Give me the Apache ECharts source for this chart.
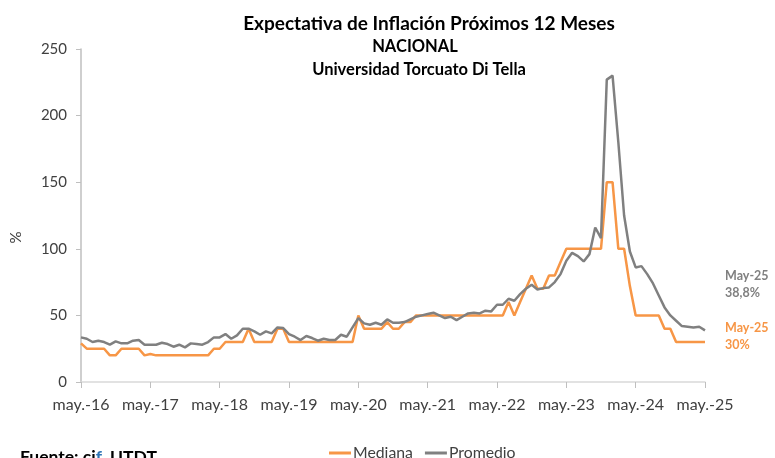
<!DOCTYPE html>
<html>
<head>
<meta charset="utf-8">
<script src="https://cdn.jsdelivr.net/npm/echarts@6/dist/echarts.min.js"></script>
<style>
  html, body { margin: 0; padding: 0; background: #fff; }
  #chart { width: 775px; height: 458px; }
</style>
</head>
<body>
<div id="chart"></div>
<script>
// meses: may-16 .. may-25 (109 puntos)
const mesesAbr = ['ene', 'feb', 'mar', 'abr', 'may', 'jun', 'jul', 'ago', 'sep', 'oct', 'nov', 'dic']
const categorias = []
for (let k = 0; k < 109; k++) {
  const m = (4 + k) % 12
  const a = 16 + Math.floor((4 + k) / 12)
  categorias.push(mesesAbr[m] + '.-' + a)
}

// Mediana (naranja)
const mediana = [
  29, 25, 25, 25, 25, 20, 20, 25, 25, 25, 25, 20, 21, 20,
  20, 20, 20, 20, 20, 20, 20, 20,
  20, 25, 25, 30, 30, 30, 30, 40, 30, 30, 30, 30, 40, 40, 30,
  30, 30, 30, 30, 30, 30, 30, 30, 30, 30,
  30, 50, 40, 40, 40, 40, 45, 40, 40, 45, 45,
  50, 50, 50, 50, 50, 50, 50, 50, 50, 50, 50, 50, 50, 50, 50, 50,
  60, 50, 60, 70, 80, 70, 70, 80, 80, 90,
  100, 100, 100, 100, 100, 100, 100,
  150, 150, 100, 100, 72,
  50, 50, 50, 50, 50,
  40, 40,
  30, 30, 30, 30, 30, 30
]

// Promedio (gris)
const promedio = [
  33.5, 32.5, 30, 31, 30, 28, 30.5, 29, 29, 31, 31.5, 28, 28, 28,
  29.5, 28.5, 26.5, 28, 26, 29, 28.5, 28,
  30, 33.5, 33.5, 36, 32.5, 35, 40, 40, 38, 35.5, 38, 36.5, 41, 40.5, 36,
  34, 31.5, 34.5, 33, 31, 32.5, 31.5, 31.5, 35.5, 34,
  41, 48, 44, 43, 44.5, 43, 47, 44.5, 44.5, 45, 47,
  49, 50, 51, 52, 50, 48, 49, 46.5, 49, 51.5, 52, 51.5, 53.5, 53, 58, 58,
  62.5, 61, 66, 70, 73, 69.5, 70.5, 71, 75, 81,
  91, 97, 94.5, 90.5, 96, 116, 108,
  227, 230, 180, 125, 98,
  86, 87, 81, 74, 65,
  56, 50,
  46, 42, 41.5, 41, 41.5, 38.8
]

const colorMediana = '#F79646'
const colorPromedio = '#808080'
const fuente = 'Lato, "Noto Sans", sans-serif'

const chart = echarts.init(document.getElementById('chart'))

const option = {
  animation: false,
  backgroundColor: '#fff',
  textStyle: { fontFamily: fuente },
  title: [
    {
      text: 'Expectativa de Inflación Próximos 12 Meses',
      left: 424, top: 9, textAlign: 'center',
      textStyle: { fontSize: 19, fontWeight: 'bold', color: '#000', fontFamily: fuente }
    },
    {
      text: 'NACIONAL',
      left: 410, top: 33, textAlign: 'center',
      textStyle: { fontSize: 16.5, fontWeight: 'bold', color: '#000', fontFamily: fuente }
    },
    {
      text: 'Universidad Torcuato Di Tella',
      left: 414, top: 56, textAlign: 'center',
      textStyle: { fontSize: 16.5, fontWeight: 'bold', color: '#000', fontFamily: fuente }
    },
    {
      text: '{a|Fuente: ci}{b|f}{a|_UTDT}',
      left: 15, top: 443,
      textStyle: {
        rich: {
          a: { fontSize: 17.5, fontWeight: 'bold', color: '#000', fontFamily: fuente },
          b: { fontSize: 17.5, fontWeight: 'bold', color: '#2E75B6', fontFamily: fuente }
        }
      }
    }
  ],
  legend: {
    data: ['Mediana', 'Promedio'],
    left: 324, top: 440,
    itemWidth: 22, itemHeight: 3, itemGap: 12,
    icon: 'rect',
    textStyle: { fontSize: 15.8, color: '#404040', fontFamily: fuente, padding: [0, 0, 0, -3] }
  },
  grid: { left: 81, right: 70, top: 49, bottom: 76 },
  xAxis: {
    type: 'category',
    data: categorias,
    boundaryGap: false,
    axisLine: { lineStyle: { color: '#d9d9d9', width: 1.5 } },
    axisTick: {
      alignWithLabel: true,
      interval: (i) => i % 12 === 0,
      length: 6,
      lineStyle: { color: '#bfbfbf' }
    },
    axisLabel: {
      interval: (i) => i % 12 === 0,
      fontSize: 16, color: '#404040', margin: 15
    },
    splitLine: { show: false }
  },
  yAxis: {
    type: 'value',
    min: 0, max: 250, interval: 50,
    name: '%',
    nameLocation: 'middle',
    nameGap: 57,
    nameRotate: 90,
    nameTextStyle: { fontSize: 15, color: '#404040', padding: [0, 44, 0, 0] },
    axisLine: { show: true, lineStyle: { color: '#bfbfbf', width: 1.5 } },
    axisTick: { show: true, length: 5, lineStyle: { color: '#bfbfbf' } },
    axisLabel: { fontSize: 15, color: '#404040', margin: 14 },
    splitLine: { show: false }
  },
  series: [
    {
      name: 'Mediana',
      type: 'line',
      data: mediana,
      showSymbol: false,
      symbol: 'none',
      lineStyle: { color: colorMediana, width: 2.5 },
      itemStyle: { color: colorMediana },
      z: 2,
      endLabel: {
        show: true,
        formatter: 'May-25\n30%',
        color: colorMediana,
        fontWeight: 'bold',
        fontSize: 12.5,
        lineHeight: 17,
        align: 'left',
        distance: 0,
        offset: [20, -6]
      }
    },
    {
      name: 'Promedio',
      type: 'line',
      data: promedio,
      showSymbol: false,
      symbol: 'none',
      lineStyle: { color: colorPromedio, width: 2.5 },
      itemStyle: { color: colorPromedio },
      z: 3,
      endLabel: {
        show: true,
        formatter: 'May-25\n38,8%',
        color: colorPromedio,
        fontWeight: 'bold',
        fontSize: 12.5,
        lineHeight: 17,
        align: 'left',
        distance: 0,
        offset: [20, -46]
      }
    }
  ]
}

chart.setOption(option)
</script>
</body>
</html>
